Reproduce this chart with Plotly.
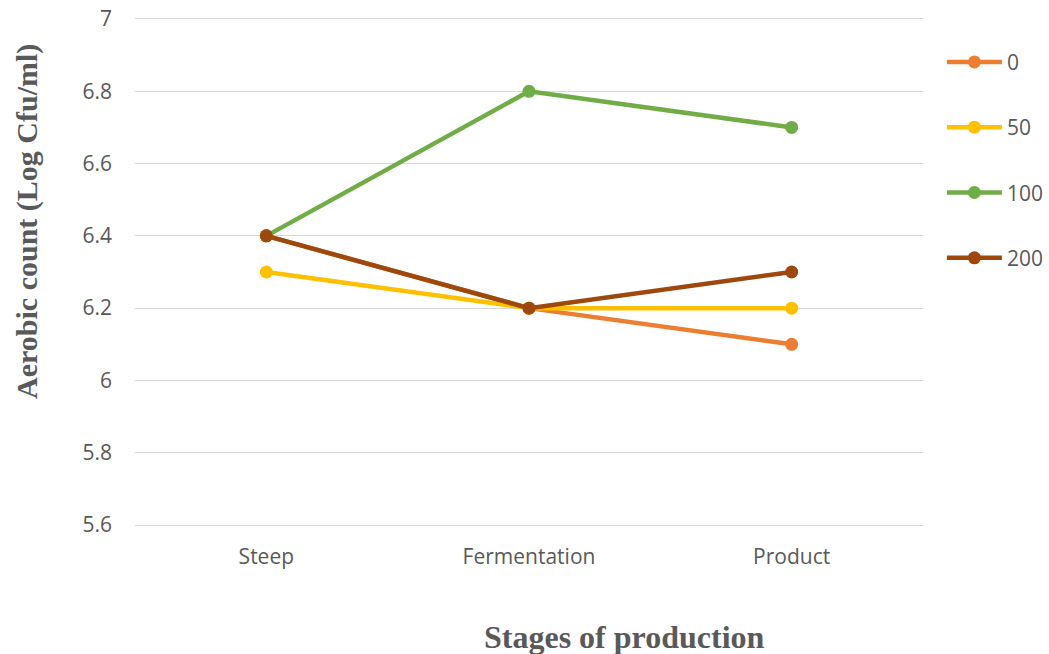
import plotly.graph_objects as go

# Production stages and aerobic counts (log CFU/ml) per treatment level
stages = ["Steep", "Fermentation", "Product"]
series_names = ["0", "50", "100", "200"]
counts_0 = [6.4, 6.2, 6.1]
counts_50 = [6.3, 6.2, 6.2]
counts_100 = [6.4, 6.8, 6.7]
counts_200 = [6.4, 6.2, 6.3]
y_ticks = [5.6, 5.8, 6.0, 6.2, 6.4, 6.6, 6.8, 7.0]
y_tick_text = ["5.6", "5.8", "6", "6.2", "6.4", "6.6", "6.8", "7"]

colors = ["#ED7D31", "#FFC000", "#70AD47", "#9E480E"]
all_counts = [counts_0, counts_50, counts_100, counts_200]

fig = go.Figure()
for name, vals, col in zip(series_names, all_counts, colors):
    fig.add_trace(go.Scatter(
        x=stages, y=vals, name=name, mode="lines+markers",
        line=dict(color=col, width=4.5),
        marker=dict(color=col, size=13),
        legendgroup="g" + name,
    ))

tick_font = dict(family="Open Sans, Liberation Sans, sans-serif", size=21, color="#595959")

fig.update_layout(
    width=1049, height=654,
    margin=dict(l=135, r=126, t=19, b=129, autoexpand=False),
    paper_bgcolor="white", plot_bgcolor="white",
    showlegend=True,
    legend=dict(
        x=1.024, y=0.955, xanchor="left", yanchor="top",
        font=tick_font, tracegroupgap=35, itemwidth=55,
        bgcolor="rgba(0,0,0,0)",
    ),
    xaxis=dict(
        type="category", range=[-0.5, 2.5],
        showgrid=False, zeroline=False,
        showline=True, linecolor="#D9D9D9", linewidth=1.3, mirror=True,
        tickfont=tick_font, ticks="", ticklabelstandoff=13,
    ),
    yaxis=dict(
        range=[5.6, 7.0], tickvals=y_ticks, ticktext=y_tick_text,
        showgrid=True, gridcolor="#D9D9D9", gridwidth=1.3,
        zeroline=False, showline=False,
        tickfont=tick_font, ticks="", ticklabelstandoff=22,
    ),
    annotations=[
        dict(text="<b>Aerobic count (Log Cfu/ml)</b>", xref="paper", yref="paper",
             x=-0.137, y=0.599, xanchor="center", yanchor="middle", textangle=-90,
             showarrow=False,
             font=dict(family="Liberation Serif, Times New Roman, serif", size=30, color="#595959")),
        dict(text="<b>Stages of production</b>", xref="paper", yref="paper",
             x=0.621, y=-0.222, xanchor="center", yanchor="middle",
             showarrow=False,
             font=dict(family="Liberation Serif, Times New Roman, serif", size=32, color="#595959")),
    ],
)

fig.write_html("out.html")
